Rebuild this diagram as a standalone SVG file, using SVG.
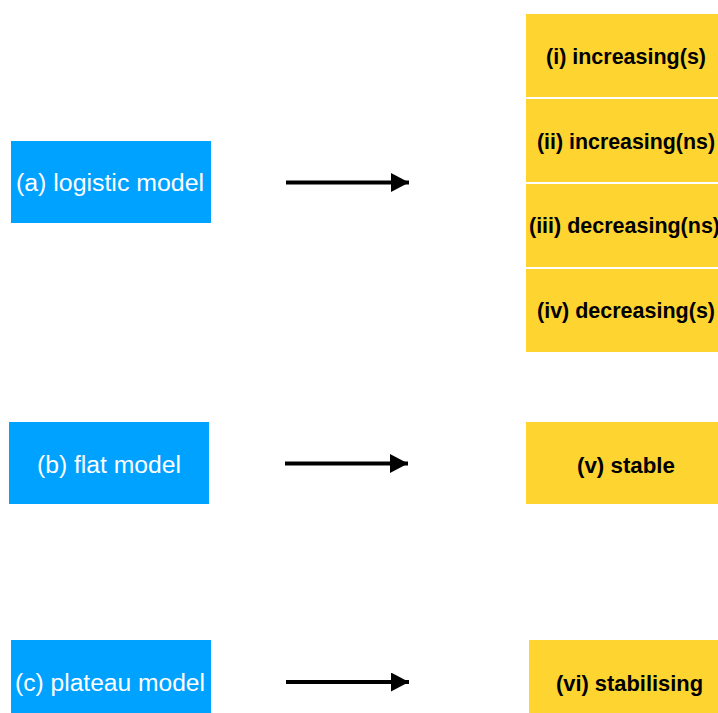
<svg xmlns="http://www.w3.org/2000/svg" width="718" height="713" viewBox="0 0 718 713">
<defs>
<style>
.blue{fill:#00A2FF}
.yel{fill:#FED530}
.bt{font-family:"Liberation Sans",Arial,sans-serif;font-size:23.5px;fill:#FFFFFF}
.yt{font-family:"Liberation Sans",Arial,sans-serif;font-size:22px;font-weight:bold;fill:#000000}
.conn{stroke:#000;stroke-width:4;fill:none}
</style>
<marker id="ah" markerUnits="userSpaceOnUse" markerWidth="19" markerHeight="20" refX="18" refY="9.5" orient="auto">
<path d="M0,0 L18,9.5 L0,19 Z" fill="#000"/>
</marker>
</defs>
<rect width="718" height="713" fill="#FFFFFF"/>
<g id="connectors">
<line class="conn" x1="286" y1="182.5" x2="409" y2="182.5" marker-end="url(#ah)"/>
<line class="conn" x1="285" y1="463.5" x2="408" y2="463.5" marker-end="url(#ah)"/>
<line class="conn" x1="286" y1="682" x2="409" y2="682" marker-end="url(#ah)"/>
</g>
<g id="node-a">
<rect class="blue" x="11" y="141" width="200" height="82"/>
<text class="bt" x="16" y="191" textLength="188" lengthAdjust="spacingAndGlyphs">(a) logistic model</text>
</g>
<g id="node-b">
<rect class="blue" x="9" y="422" width="200" height="82"/>
<text class="bt" x="37" y="473" textLength="144" lengthAdjust="spacingAndGlyphs">(b) flat model</text>
</g>
<g id="node-c">
<rect class="blue" x="11" y="640" width="200" height="80"/>
<text class="bt" x="15" y="691" textLength="190" lengthAdjust="spacingAndGlyphs">(c) plateau model</text>
</g>
<g id="node-i">
<rect class="yel" x="526" y="14" width="200" height="83"/>
<text class="yt" x="546" y="64" textLength="160" lengthAdjust="spacingAndGlyphs">(i) increasing(s)</text>
</g>
<g id="node-ii">
<rect class="yel" x="526" y="99" width="200" height="83"/>
<text class="yt" x="537" y="149" textLength="178" lengthAdjust="spacingAndGlyphs">(ii) increasing(ns)</text>
</g>
<g id="node-iii">
<rect class="yel" x="526" y="184" width="200" height="83"/>
<text class="yt" x="529" y="233" textLength="191" lengthAdjust="spacingAndGlyphs">(iii) decreasing(ns)</text>
</g>
<g id="node-iv">
<rect class="yel" x="526" y="269" width="200" height="83"/>
<text class="yt" x="537" y="318" textLength="178" lengthAdjust="spacingAndGlyphs">(iv) decreasing(s)</text>
</g>
<g id="node-v">
<rect class="yel" x="526" y="422" width="200" height="82"/>
<text class="yt" x="577" y="473" textLength="98" lengthAdjust="spacingAndGlyphs">(v) stable</text>
</g>
<g id="node-vi">
<rect class="yel" x="529" y="640" width="200" height="80"/>
<text class="yt" x="556" y="691" textLength="147" lengthAdjust="spacingAndGlyphs">(vi) stabilising</text>
</g>
</svg>
